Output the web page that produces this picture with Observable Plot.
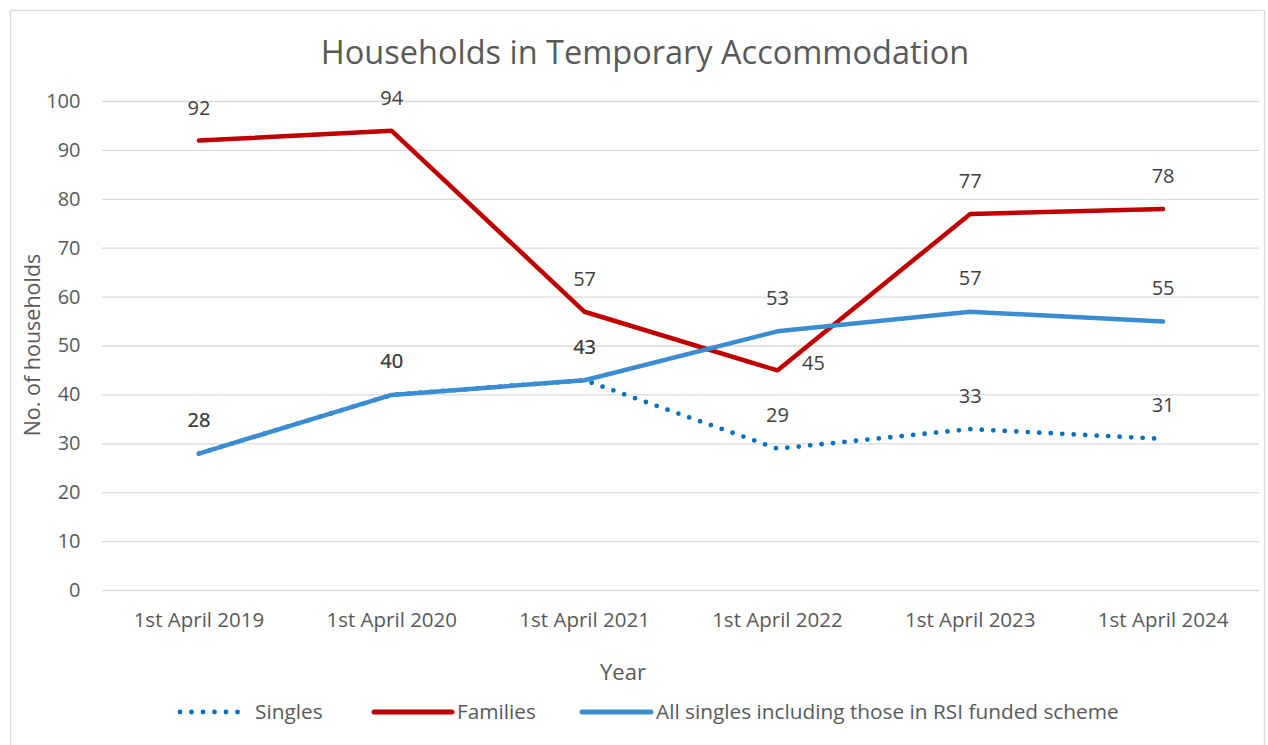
<!DOCTYPE html>
<html>
<head>
<meta charset="utf-8">
<script src="https://cdn.jsdelivr.net/npm/d3@7"></script>
<script src="https://cdn.jsdelivr.net/npm/@observablehq/plot@0.6"></script>
<style>
  html, body { margin: 0; padding: 0; background: #fff; }
  #chart { width: 1268px; height: 745px; position: relative; }
</style>
</head>
<body>
<div id="chart"></div>
<script>
const years = ["1st April 2019", "1st April 2020", "1st April 2021", "1st April 2022", "1st April 2023", "1st April 2024"];
const singles = [28, 40, 43, 29, 33, 31];
const families = [92, 94, 57, 45, 77, 78];
const allSingles = [28, 40, 43, 53, 57, 55];
const yTicks = [0, 10, 20, 30, 40, 50, 60, 70, 80, 90, 100];

const seriesNames = ["Singles", "Families", "All singles including those in RSI funded scheme"];
const colors = {"Singles": "#0070C0", "Families": "#C00000", "All singles including those in RSI funded scheme": "#3A8DD0"};

const FONT = "'Open Sans', Lato, sans-serif";

const rows = (name, vals) => years.map((y, i) => ({year: y, value: vals[i], series: name, i}));
const dS = rows(seriesNames[0], singles);
const dF = rows(seriesNames[1], families);
const dA = rows(seriesNames[2], allSingles);

const labelStyle = {fill: "#404040", fontSize: 20, fontFamily: FONT};

const plot = Plot.plot({
  width: 1268,
  height: 745,
  marginTop: 101,
  marginBottom: 155,
  marginLeft: 102,
  marginRight: 9,
  style: {fontFamily: FONT, overflow: "visible"},
  x: {type: "point", domain: years, padding: 0.5, round: false, label: null},
  y: {domain: [0, 100], label: null},
  marks: [
    Plot.gridY(yTicks, {stroke: "#D9D9D9", strokeOpacity: 1, strokeWidth: 1.3}),
    Plot.axisY(yTicks, {tickSize: 0, tickPadding: 22, fontSize: 20, fill: "#595959", label: null}),
    Plot.axisX({tickSize: 0, tickPadding: 22, fontSize: 20.5, fill: "#595959", label: null}),
    Plot.line(dS, {x: "year", y: "value", stroke: colors["Singles"], strokeWidth: 4.8, strokeLinecap: "round", strokeDasharray: "0 11.5"}),
    Plot.line(dF, {x: "year", y: "value", stroke: colors["Families"], strokeWidth: 4.5, strokeLinejoin: "miter", strokeLinecap: "round"}),
    Plot.line(dA, {x: "year", y: "value", stroke: colors[seriesNames[2]], strokeWidth: 4.5, strokeLinecap: "round"}),
    Plot.text(dS, {x: "year", y: "value", text: "value", dy: -33, ...labelStyle}),
    Plot.text(dF, {filter: d => d.i !== 3, x: "year", y: "value", text: "value", dy: -32, ...labelStyle}),
    Plot.text(dF, {filter: d => d.i === 3, x: "year", y: "value", text: "value", dx: 36, dy: -7, ...labelStyle}),
    Plot.text(dA, {x: "year", y: "value", text: "value", dy: -33, ...labelStyle})
  ]
});

document.getElementById("chart").appendChild(plot);
const svg = d3.select(plot);

// chart border
svg.insert("rect", ":first-child")
  .attr("x", 10.5).attr("y", 10.5).attr("width", 1254).attr("height", 740)
  .attr("fill", "none").attr("stroke", "#D9D9D9").attr("stroke-width", 1.3);

// title
svg.append("text").attr("x", 645).attr("y", 64).attr("text-anchor", "middle")
  .attr("font-family", FONT).attr("font-size", 32.5).attr("fill", "#595959")
  .text("Households in Temporary Accommodation");

// axis titles
svg.append("text").attr("x", 623).attr("y", 680).attr("text-anchor", "middle")
  .attr("font-family", FONT).attr("font-size", 22).attr("fill", "#595959").text("Year");
svg.append("text").attr("transform", "translate(40,345) rotate(-90)").attr("text-anchor", "middle")
  .attr("font-family", FONT).attr("font-size", 21.5).attr("fill", "#595959").text("No. of households");

// legend
const legendItems = [
  {name: seriesNames[0], x1: 180, x2: 246, tx: 255, dash: "0 11.5", w: 4.8},
  {name: seriesNames[1], x1: 374, x2: 452, tx: 457, dash: null, w: 5},
  {name: seriesNames[2], x1: 582, x2: 651, tx: 656, dash: null, w: 5}
];
const lg = svg.append("g");
legendItems.forEach(it => {
  lg.append("line").attr("x1", it.x1).attr("x2", it.x2).attr("y1", 712).attr("y2", 712)
    .attr("stroke", colors[it.name]).attr("stroke-width", it.w).attr("stroke-linecap", "round")
    .attr("stroke-dasharray", it.dash);
  lg.append("text").attr("x", it.tx).attr("y", 719).attr("text-anchor", "start")
    .attr("font-family", FONT).attr("font-size", 20.8).attr("fill", "#595959").text(it.name);
});
</script>
</body>
</html>
